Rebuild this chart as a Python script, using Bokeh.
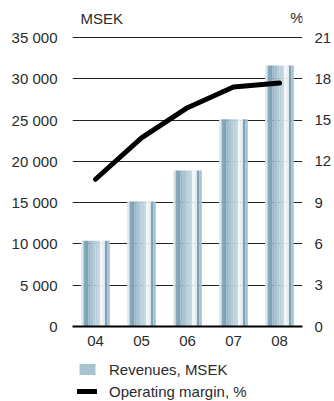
from bokeh.plotting import figure
from bokeh.layouts import column
from bokeh.models import (ColumnDataSource, FactorRange, Range1d, LinearAxis, FixedTicker,
                          Legend, LegendItem, Label)
from bokeh.transform import dodge
from bokeh.embed import file_html
from bokeh.resources import INLINE

years = ["04", "05", "06", "07", "08"]
revenues = [10400, 15150, 18900, 25100, 31600]
margin = [10.7, 13.7, 15.9, 17.4, 17.7]
left_ticks = [0, 5000, 10000, 15000, 20000, 25000, 30000, 35000]
left_labels = ["0", "5 000", "10 000", "15 000", "20 000", "25 000", "30 000", "35 000"]
right_ticks = [0, 3, 6, 9, 12, 15, 18, 21]

FONT = "Liberation Sans"
FS = "15px"
TXT = "#2b2b2b"
BL, BR = 72, 28

# ---------- header (unit labels) ----------
head = figure(width=334, height=26, x_range=Range1d(0, 1), y_range=Range1d(0, 1),
              x_axis_type=None, y_axis_type=None, output_backend="svg", toolbar_location=None,
              min_border_top=0, min_border_bottom=0, min_border_left=BL, min_border_right=BR)
head.outline_line_color = None
head.grid.visible = False
head.add_layout(Label(x=8, y=8, x_units="screen", y_units="screen", text="MSEK",
                      text_font=FONT, text_font_size=FS, text_color=TXT,
                      text_baseline="middle", text_align="left"))
head.add_layout(Label(x=231, y=9, x_units="screen", y_units="screen", text="%",
                      text_font=FONT, text_font_size=FS, text_color=TXT,
                      text_baseline="middle", text_align="right"))

# ---------- main chart ----------
src = ColumnDataSource(dict(year=years, rev=revenues, margin=margin))
TOP_PAD = 293 / 289  # small headroom so the top grid line is not clipped

p = figure(width=334, height=326, x_range=FactorRange(*years, range_padding=0),
           y_range=Range1d(0, left_ticks[-1] * TOP_PAD), output_backend="svg",
           toolbar_location=None, min_border_left=BL, min_border_right=BR,
           min_border_top=7, min_border_bottom=26)
p.extra_y_ranges = {"pct": Range1d(0, right_ticks[-1] * TOP_PAD)}
p.outline_line_color = None

# stripes to imitate the cylindrical bar shading
stripe_colors = ["#dde8ee", "#86a9bc", "#7fa3b6", "#98b6c6", "#a9c2cf", "#b3cad6",
                 "#bad0da", "#c6d8e1", "#f2f7f9", "#e2ecf1", "#7fa2b6", "#a9c2cf"]
W = 0.62
n = len(stripe_colors)
for i, c in enumerate(stripe_colors):
    off = -W / 2 + (i + 0.5) * W / n
    p.vbar(x=dodge("year", off, range=p.x_range), top="rev", bottom=0, width=W / n + 0.002,
           source=src, fill_color=c, line_color=None)

p.line(x="year", y="margin", source=src, y_range_name="pct", line_color="black",
       line_width=5, line_cap="round", line_join="round")

yl = p.yaxis[0]
yl.ticker = FixedTicker(ticks=left_ticks)
yl.major_label_overrides = {t: l for t, l in zip(left_ticks, left_labels)}
yr = LinearAxis(y_range_name="pct", ticker=FixedTicker(ticks=right_ticks))
p.add_layout(yr, "right")
for ax in (yl, yr):
    ax.axis_line_color = None
    ax.major_tick_line_color = None
    ax.minor_tick_line_color = None
    ax.major_label_text_font = FONT
    ax.major_label_text_font_size = FS
    ax.major_label_text_color = TXT
yl.major_label_standoff = 9
yr.major_label_standoff = 6

xa = p.xaxis[0]
xa.axis_line_color = "black"
xa.axis_line_width = 2
xa.major_tick_line_color = None
xa.minor_tick_line_color = None
xa.major_label_text_font = FONT
xa.major_label_text_font_size = FS
xa.major_label_text_color = TXT
xa.major_label_standoff = 3

p.xgrid.grid_line_color = None
p.ygrid.grid_line_color = "#222222"
p.ygrid.grid_line_width = 1
p.ygrid.ticker = FixedTicker(ticks=left_ticks)

# ---------- legend ----------
leg = figure(width=334, height=49, x_range=Range1d(0, 1), y_range=Range1d(0, 1),
             x_axis_type=None, y_axis_type=None, output_backend="svg", toolbar_location=None,
             min_border_top=0, min_border_bottom=0, min_border_left=BL, min_border_right=BR)
leg.outline_line_color = None
leg.grid.visible = False
proxy = ColumnDataSource(dict(x=[float("nan")], y=[float("nan")]))
r_bar = leg.vbar(x="x", top="y", width=0.1, source=proxy, fill_color="#a9c2cf", line_color=None)
r_line = leg.line(x="x", y="y", source=proxy, line_color="black", line_width=5, line_cap="round")
legend = Legend(items=[LegendItem(label="Revenues, MSEK", renderers=[r_bar]),
                       LegendItem(label="Operating margin, %", renderers=[r_line])],
                location=(5, -1), orientation="vertical", border_line_color=None,
                background_fill_alpha=0, margin=0, padding=0, spacing=0,
                glyph_width=20, glyph_height=14, label_height=22, label_standoff=12,
                label_text_font=FONT, label_text_font_size=FS, label_text_color=TXT)
leg.add_layout(legend)

layout = column(head, p, leg, spacing=0)
open("out.html", "w").write(file_html(layout, INLINE))
